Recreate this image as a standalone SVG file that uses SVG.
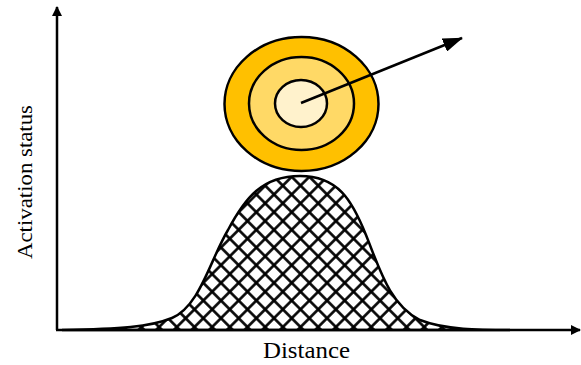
<svg xmlns="http://www.w3.org/2000/svg" width="581" height="365" viewBox="0 0 581 365">
<style>
.ax{stroke:#000;stroke-width:2.5;fill:none}
.ring{stroke:#000;stroke-width:2.5}
.lbl{font-family:"Liberation Serif","Times New Roman",serif;font-size:24px;fill:#000}
</style>
<defs>
<marker id="ah" markerWidth="10" markerHeight="10" refX="9" refY="5" orient="auto" markerUnits="userSpaceOnUse" viewBox="0 0 10 10">
<path d="M0,0 L10,5 L0,10 Z" fill="#000"/>
</marker>
<marker id="ah2" markerWidth="20" markerHeight="14" refX="19" refY="7" orient="auto" markerUnits="userSpaceOnUse" viewBox="0 0 20 14">
<path d="M0,0 L20,7 L0,14 Z" fill="#000"/>
</marker>
<pattern id="hatch" width="12.5" height="12.5" patternUnits="userSpaceOnUse" patternTransform="rotate(45)">
<rect width="12.5" height="12.5" fill="#fff"/>
<line x1="6.25" y1="0" x2="6.25" y2="12.5" stroke="#000" stroke-width="2.6"/>
<line x1="0" y1="6.25" x2="12.5" y2="6.25" stroke="#000" stroke-width="2.6"/>
</pattern>
</defs>
<g id="curve">
<path d="M62 330 C120 329,150 327,172 318 C200 306,210 260,228 230 C245 198,262 176,300 176 C338 176,352 200,366 235 C380 270,390 305,420 320 C445 330,480 330,510 330 Z" fill="url(#hatch)" stroke="#000" stroke-width="2.5"/>
</g>
<g id="target">
<ellipse cx="301.5" cy="104" rx="77" ry="67" fill="#FFC000" class="ring"/>
<ellipse cx="301.5" cy="103.5" rx="52.5" ry="46.5" fill="#FFD966" class="ring"/>
<ellipse cx="301" cy="103.5" rx="26" ry="23.5" fill="#FFF2CC" class="ring"/>
</g>
<g id="connectors">
<line x1="57" y1="330" x2="57" y2="7" class="ax" marker-end="url(#ah)"/>
<line x1="56" y1="330" x2="580" y2="330" class="ax" marker-end="url(#ah)"/>
<line x1="301" y1="103" x2="462" y2="38" stroke="#000" stroke-width="2.5" marker-end="url(#ah2)"/>
</g>
<g id="labels">
<text class="lbl" x="263" y="358" textLength="87" lengthAdjust="spacingAndGlyphs">Distance</text>
<text class="lbl" style="font-size:20px" transform="translate(32,259) rotate(-90)" textLength="154" lengthAdjust="spacingAndGlyphs">Activation status</text>
</g>
</svg>
